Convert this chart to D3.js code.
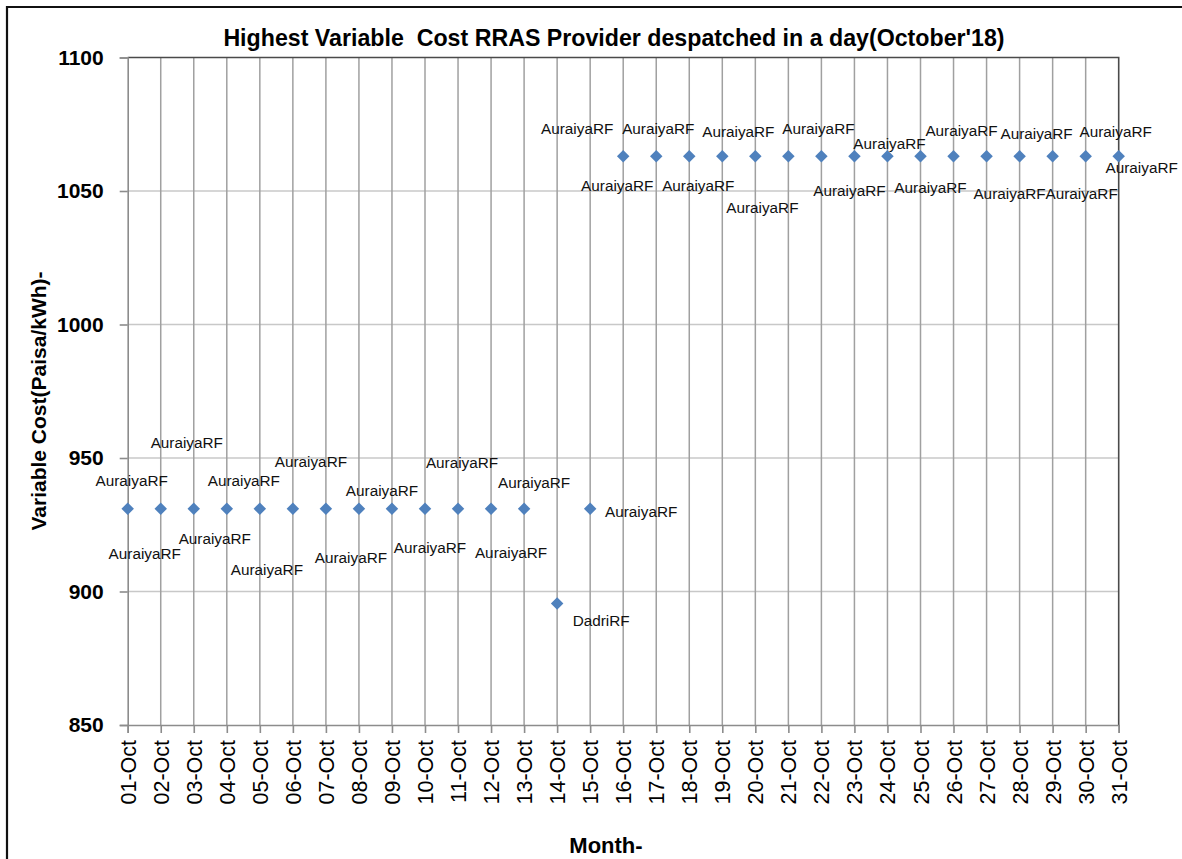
<!DOCTYPE html>
<html>
<head>
<meta charset="utf-8">
<script src="https://cdn.jsdelivr.net/npm/d3@7"></script>
<style>
  html, body { margin: 0; padding: 0; background: #fff; overflow: hidden; }
  svg { display: block; }
</style>
</head>
<body>
<script>
// ---- data ----
const days = ["01-Oct","02-Oct","03-Oct","04-Oct","05-Oct","06-Oct","07-Oct","08-Oct","09-Oct","10-Oct",
              "11-Oct","12-Oct","13-Oct","14-Oct","15-Oct","16-Oct","17-Oct","18-Oct","19-Oct","20-Oct",
              "21-Oct","22-Oct","23-Oct","24-Oct","25-Oct","26-Oct","27-Oct","28-Oct","29-Oct","30-Oct","31-Oct"];
const costs = [931,931,931,931,931,931,931,931,931,931,
               931,931,931,895.5,931,1063,1063,1063,1063,1063,
               1063,1063,1063,1063,1063,1063,1063,1063,1063,1063,1063];
const providers = ["AuraiyaRF","AuraiyaRF","AuraiyaRF","AuraiyaRF","AuraiyaRF","AuraiyaRF","AuraiyaRF","AuraiyaRF","AuraiyaRF","AuraiyaRF",
                   "AuraiyaRF","AuraiyaRF","AuraiyaRF","DadriRF","AuraiyaRF","AuraiyaRF","AuraiyaRF","AuraiyaRF","AuraiyaRF","AuraiyaRF",
                   "AuraiyaRF","AuraiyaRF","AuraiyaRF","AuraiyaRF","AuraiyaRF","AuraiyaRF","AuraiyaRF","AuraiyaRF","AuraiyaRF","AuraiyaRF","AuraiyaRF"];
const yTicks = [850, 900, 950, 1000, 1050, 1100];
const titleText = "Highest Variable  Cost RRAS Provider despatched in a day(October'18)";
const yTitle = "Variable Cost(Paisa/kWh)-";
const xTitle = "Month-";

// ---- label placement (layout only, px offsets from each point) ----
const labelDx = [4,-16,-7,-12,-16,-26,-15,-8,-10,5,4,20,10,44,51,
                 -46,-39,-31,-24,-17,-26,-3,-5,2,10,8,23,17,29,30,23];
const labelDy = [-28,45,-66,30,-28,61,-47,49,-18,39,-46,44,-26,17,3,
                 -28,29,-28,29,-25,51,-28,34,-13,31,-26,37,-23,37,-25,11];

const W = 1182, H = 859;
const svg = d3.select("body").append("svg").attr("width", W).attr("height", H);

// outer chart border: only its left and top edges fall inside the picture
svg.append("path").attr("d", `M7,${H}V7H${W}`)
  .attr("fill", "none").attr("stroke", "#111").attr("stroke-width", 2.2);

const pLeft = 127.7, pRight = 1118.7, pTop = 57.5, pBottom = 725;
const x = d3.scalePoint().domain(days).range([pLeft, pRight]).padding(0);
const y = d3.scaleLinear().domain([850, 1100]).range([pBottom, pTop]);

const F = "'Liberation Sans', Arial, sans-serif";

// horizontal gridlines
svg.append("g").selectAll("line").data(yTicks.filter(d => d > 850 && d < 1100)).join("line")
  .attr("x1", pLeft).attr("x2", pRight).attr("y1", d => y(d)).attr("y2", d => y(d))
  .attr("stroke", "#c8c8c8").attr("stroke-width", 1.5);

// vertical gridlines
svg.append("g").selectAll("line").data(days.slice(1, -1)).join("line")
  .attr("x1", d => x(d)).attr("x2", d => x(d)).attr("y1", pTop).attr("y2", pBottom)
  .attr("stroke", "#a0a0a0").attr("stroke-width", 1.5);

// top & right border of plot area
svg.append("path")
  .attr("d", `M${pLeft},${pTop}H${pRight}V${pBottom}`)
  .attr("fill", "none").attr("stroke", "#4a4a4a").attr("stroke-width", 1.6);

// y axis
const yAxis = d3.axisLeft(y).tickValues(yTicks).tickSize(8).tickPadding(16).tickFormat(d3.format("d"));
const gy = svg.append("g").attr("transform", `translate(${pLeft},0)`).call(yAxis);
gy.select(".domain").attr("stroke", "#8c8c8c").attr("stroke-width", 1.6);
gy.selectAll(".tick line").attr("stroke", "#8c8c8c").attr("stroke-width", 1.6);
gy.selectAll(".tick text").attr("font-family", F).attr("font-size", 21).attr("font-weight", "bold")
  .attr("fill", "#000");

// x axis
const xAxis = d3.axisBottom(x).tickSize(8).tickPadding(0);
const gx = svg.append("g").attr("transform", `translate(0,${pBottom})`).call(xAxis);
gx.select(".domain").attr("stroke", "#8c8c8c").attr("stroke-width", 1.6);
gx.selectAll(".tick line").attr("stroke", "#8c8c8c").attr("stroke-width", 1.6);
gx.selectAll(".tick text")
  .attr("font-family", F).attr("font-size", 21.5).attr("fill", "#000")
  .attr("text-anchor", "end").attr("dy", "0.35em")
  .attr("transform", "translate(0,15) rotate(-90)")
  .attr("x", 0).attr("y", 0);

// points
const pts = days.map((d, i) => ({ day: d, v: costs[i], p: providers[i], dx: labelDx[i], dy: labelDy[i] }));
svg.append("g").selectAll("path").data(pts).join("path")
  .attr("d", d3.symbol().type(d3.symbolSquare).size(78))
  .attr("transform", d => `translate(${x(d.day)},${y(d.v)}) rotate(45)`)
  .attr("fill", "#4f81bd");

// data labels
svg.append("g").selectAll("text").data(pts).join("text")
  .attr("x", d => x(d.day) + d.dx).attr("y", d => y(d.v) + d.dy)
  .attr("text-anchor", "middle").attr("dominant-baseline", "central")
  .attr("font-family", F).attr("font-size", 15.3).attr("fill", "#111")
  .text(d => d.p);

// titles
svg.append("text").attr("x", 614).attr("y", 46).attr("text-anchor", "middle")
  .attr("font-family", F).attr("font-size", 23.2).attr("font-weight", "bold").attr("fill", "#000")
  .style("white-space", "pre").text(titleText);

svg.append("text").attr("transform", "translate(38,401) rotate(-90)")
  .attr("text-anchor", "middle").attr("dominant-baseline", "central")
  .attr("font-family", F).attr("font-size", 21).attr("font-weight", "bold").attr("fill", "#000")
  .text(yTitle);

svg.append("text").attr("x", 606).attr("y", 845)
  .attr("text-anchor", "middle").attr("dominant-baseline", "central")
  .attr("font-family", F).attr("font-size", 22).attr("font-weight", "bold").attr("fill", "#000")
  .text(xTitle);
</script>
</body>
</html>
